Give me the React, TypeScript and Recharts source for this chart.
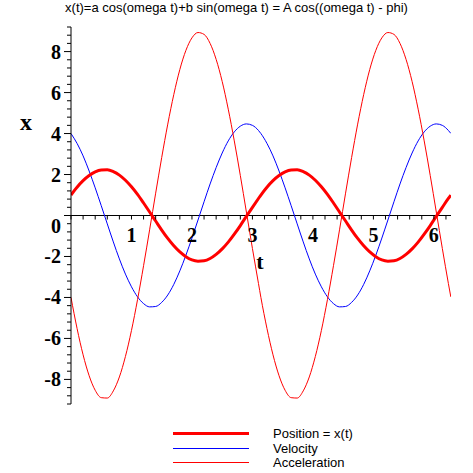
import { Line, LineChart, ReferenceLine, XAxis, YAxis } from "recharts";

// ---------------------------------------------------------------------------
// Data (t from 0 to 2π)
// ---------------------------------------------------------------------------

const tValues = [
  0, 0.1, 0.2, 0.3, 0.4, 0.5, 0.6, 0.7, 0.8, 0.9, 1.0, 1.1, 1.2, 1.3, 1.4, 1.5,
  1.6, 1.7, 1.8, 1.9, 2.0, 2.1, 2.2, 2.3, 2.4, 2.5, 2.6, 2.7, 2.8, 2.9, 3.0, 3.1,
  3.14, 3.24, 3.34, 3.44, 3.54, 3.64, 3.74, 3.84, 3.94, 4.04, 4.14, 4.24, 4.34,
  4.44, 4.54, 4.64, 4.74, 4.84, 4.94, 5.04, 5.14, 5.24, 5.34, 5.44, 5.54, 5.64,
  5.74, 5.84, 5.94, 6.04, 6.14, 6.24, 6.28,
];

const position = [
  1.0, 1.38, 1.7, 1.95, 2.13, 2.22, 2.23, 2.14, 1.97, 1.72, 1.4, 1.03, 0.61,
  0.17, -0.27, -0.71, -1.12, -1.48, -1.78, -2.01, -2.17, -2.23, -2.21, -2.1,
  -1.9, -1.63, -1.3, -0.91, -0.49, -0.04, 0.4, 0.83,
  1.0, 1.38, 1.7, 1.95, 2.13, 2.22, 2.23, 2.14, 1.97, 1.72, 1.4, 1.03, 0.61,
  0.17, -0.27, -0.71, -1.12, -1.48, -1.78, -2.01, -2.17, -2.23, -2.21, -2.1,
  -1.9, -1.63, -1.3, -0.91, -0.49, -0.04, 0.4, 0.83, 0.99,
];

const velocity = [
  4.0, 3.52, 2.91, 2.17, 1.35, 0.48, -0.41, -1.29, -2.12, -2.86, -3.48, -3.97,
  -4.3, -4.46, -4.44, -4.24, -3.88, -3.36, -2.7, -1.94, -1.1, -0.22, 0.67, 1.54,
  2.34, 3.05, 3.64, 4.08, 4.36, 4.47, 4.4, 4.15,
  4.0, 3.52, 2.91, 2.17, 1.35, 0.48, -0.41, -1.29, -2.12, -2.86, -3.48, -3.97,
  -4.3, -4.46, -4.44, -4.24, -3.88, -3.36, -2.7, -1.94, -1.1, -0.22, 0.67, 1.54,
  2.34, 3.05, 3.64, 4.08, 4.36, 4.47, 4.4, 4.15, 4.01,
];

const acceleration = [
  -4.0, -5.51, -6.8, -7.82, -8.53, -8.89, -8.91, -8.56, -7.88, -6.88, -5.61,
  -4.11, -2.45, -0.7, 1.09, 2.83, 4.46, 5.91, 7.13, 8.06, 8.67, 8.93, 8.84, 8.4,
  7.62, 6.54, 5.19, 3.64, 1.95, 0.17, -1.61, -3.32,
  -4.0, -5.51, -6.8, -7.82, -8.53, -8.89, -8.91, -8.56, -7.88, -6.88, -5.61,
  -4.11, -2.45, -0.7, 1.09, 2.83, 4.46, 5.91, 7.13, 8.06, 8.67, 8.93, 8.84, 8.4,
  7.62, 6.54, 5.19, 3.64, 1.95, 0.17, -1.61, -3.32, -3.97,
];

const xTicks = [
  0, 0.2, 0.4, 0.6, 0.8, 1, 1.2, 1.4, 1.6, 1.8, 2, 2.2, 2.4, 2.6, 2.8, 3, 3.2,
  3.4, 3.6, 3.8, 4, 4.2, 4.4, 4.6, 4.8, 5, 5.2, 5.4, 5.6, 5.8, 6, 6.2,
];
const xLabels = [1, 2, 3, 4, 5, 6];

const yTicks = [
  -9.2, -8.8, -8.4, -8, -7.6, -7.2, -6.8, -6.4, -6, -5.6, -5.2, -4.8, -4.4, -4,
  -3.6, -3.2, -2.8, -2.4, -2, -1.6, -1.2, -0.8, -0.4, 0, 0.4, 0.8, 1.2, 1.6, 2,
  2.4, 2.8, 3.2, 3.6, 4, 4.4, 4.8, 5.2, 5.6, 6, 6.4, 6.8, 7.2, 7.6, 8, 8.4, 8.8,
  9.2,
];
const yLabels = [-8, -6, -4, -2, 0, 2, 4, 6, 8];

const SERIES = [
  { key: "velocity", name: "Velocity", color: "#0000ff", width: 1 },
  { key: "acceleration", name: "Acceleration", color: "#ff0000", width: 1 },
  { key: "position", name: "Position = x(t)", color: "#ff0000", width: 3 },
];
const LEGEND_ORDER = ["position", "velocity", "acceleration"];

const data = tValues.map((t, i) => ({
  t,
  position: position[i],
  velocity: velocity[i],
  acceleration: acceleration[i],
}));

// ---------------------------------------------------------------------------
// Geometry
// ---------------------------------------------------------------------------

const W = 473;
const H = 473;
const X_AXIS_H = 30;
const M = { top: 27, right: 22, bottom: 69 - X_AXIS_H, left: 0 };
const Y_AXIS_W = 71;
const Y_DOMAIN: [number, number] = [-9.2, 9.2];
const PLOT_H = H - M.top - M.bottom - X_AXIS_H;
// pixel row where y = 0 (x axis crosses there, Maple style)
const ZERO_Y = M.top + (PLOT_H * Y_DOMAIN[1]) / (Y_DOMAIN[1] - Y_DOMAIN[0]);

const TICK_FONT = {
  fontFamily: "'Liberation Serif', 'Times New Roman', serif",
  fontWeight: 700,
  fontSize: 20,
  fill: "#000",
};

const near = (a: number, b: number) => Math.abs(a - b) < 1e-6;

function XTick({ x, payload }: { x?: number; payload?: { value: number } }) {
  const v = payload?.value ?? 0;
  const label = xLabels.find((l) => near(l, v));
  return (
    <g>
      <line x1={x} x2={x} y1={ZERO_Y} y2={ZERO_Y + 4} stroke="#000" />
      {label != null ? (
        <text x={x} y={ZERO_Y + 26} textAnchor="middle" style={TICK_FONT}>
          {label}
        </text>
      ) : null}
    </g>
  );
}

function YTick({ y, payload }: { y?: number; payload?: { value: number } }) {
  const v = payload?.value ?? 0;
  const label = yLabels.find((l) => near(l, v));
  const yy = y ?? 0;
  const len = label != null ? 7 : 4;
  return (
    <g>
      <line x1={Y_AXIS_W - len} x2={Y_AXIS_W} y1={yy} y2={yy} stroke="#000" />
      {label != null ? (
        <text
          x={61}
          y={yy + (label === 0 ? 17 : 7)}
          textAnchor="end"
          style={TICK_FONT}
        >
          {label < 0 ? `-${Math.abs(label)}` : label}
        </text>
      ) : null}
    </g>
  );
}

// legend in the Maple layout: sample line on the left, caption to its right
function LegendBox() {
  return (
    <svg
      width={W}
      height={50}
      style={{ position: "absolute", left: 0, top: 423 }}
    >
      {LEGEND_ORDER.map((k, i) => {
        const s = SERIES.find((x) => x.key === k)!;
        const cy = Math.round(10 + i * 14.5) + 0.5;
        return (
          <g key={k}>
            <line
              x1={173}
              x2={249}
              y1={cy}
              y2={cy}
              stroke={s.color}
              strokeWidth={s.width}
              shapeRendering="crispEdges"
            />
            <text
              x={273}
              y={cy + 4.5}
              style={{
                fontFamily: "'Liberation Sans', Arial, sans-serif",
                fontSize: 13,
                fill: "#000",
              }}
            >
              {s.name}
            </text>
          </g>
        );
      })}
    </svg>
  );
}

export default function App() {
  return (
    <div
      style={{
        position: "absolute",
        left: 0,
        top: 0,
        width: W,
        height: H,
        background: "#fff",
      }}
    >
      <div
        style={{
          position: "absolute",
          left: 0,
          top: 0,
          width: W,
          textAlign: "center",
          fontFamily: "'Liberation Sans', Arial, sans-serif",
          fontSize: 13,
          lineHeight: "15px",
          color: "#000",
          whiteSpace: "nowrap",
        }}
      >
        x(t)=a cos(omega t)+b sin(omega t) = A cos((omega t) - phi)
      </div>

      <LineChart width={W} height={H} data={data} margin={M}>
        <XAxis
          dataKey="t"
          type="number"
          domain={[0, 6.2832]}
          ticks={xTicks}
          interval={0}
          axisLine={false}
          tickLine={false}
          height={X_AXIS_H}
          tick={(p) => <XTick {...p} />}
          allowDataOverflow
        />
        <YAxis
          type="number"
          domain={Y_DOMAIN}
          ticks={yTicks}
          interval={0}
          width={Y_AXIS_W}
          tickLine={false}
          axisLine={{ stroke: "#000", strokeWidth: 1 }}
          tick={(p) => <YTick {...p} />}
          allowDataOverflow
        />
        <ReferenceLine y={0} stroke="#000" strokeWidth={1} />
        {SERIES.map((s) => (
          <Line
            key={s.key}
            dataKey={s.key}
            type="monotone"
            stroke={s.color}
            strokeWidth={s.width}
            dot={false}
            activeDot={false}
            isAnimationActive={false}
          />
        ))}
        <text
          x={26}
          y={130}
          textAnchor="middle"
          style={{ ...TICK_FONT, fontSize: 24 }}
        >
          x
        </text>
        <text
          x={260}
          y={269}
          textAnchor="middle"
          style={{ ...TICK_FONT, fontSize: 22 }}
        >
          t
        </text>
      </LineChart>

      <LegendBox />
    </div>
  );
}
